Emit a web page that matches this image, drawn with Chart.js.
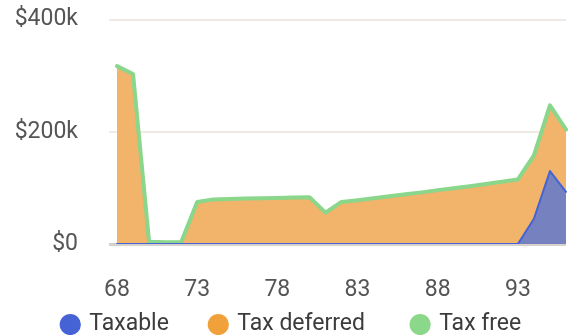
<!DOCTYPE html>
<html>
<head>
<meta charset="utf-8">
<script src="https://cdn.jsdelivr.net/npm/chart.js@4/dist/chart.umd.min.js"></script>
<style>
  html, body { margin: 0; padding: 0; background: #fff; overflow: hidden; }
  #wrap { width: 584px; height: 335px; }
</style>
</head>
<body>
<div id="wrap"><canvas id="graph-soldes" width="584" height="335"></canvas></div>
<script>
// ages du graphique (une étiquette sur cinq est affichée)
const ages = [68, 69, 70, 71, 72, 73, 74, 75, 76, 77, 78, 79, 80, 81, 82,
  83, 84, 85, 86, 87, 88, 89, 90, 91, 92, 93, 94, 95, 96];

// soldes en milliers de dollars
const taxable = [0, 0, 0, 0, 0, 0, 0, 0, 0, 0, 0, 0, 0, 0, 0,
  0, 0, 0, 0, 0, 0, 0, 0, 0, 0, 0, 45, 130, 93];
const taxDeferred = [317, 303, 4, 3, 3, 75, 79.5, 80, 81, 81.5, 82, 83, 83.5, 56, 75,
  78, 81.5, 85, 88.5, 92, 96, 99.5, 103, 107, 111, 115, 113, 117, 111];
const taxFree = [0, 0, 0, 0, 0, 0, 0, 0, 0, 0, 0, 0, 0, 0, 0,
  0, 0, 0, 0, 0, 0, 0, 0, 0, 0, 0, 0, 0, 0];

const yTicks = [0, 200000, 400000];

const police = { family: "Roboto", size: 23 };

function serie(label, valeurs, couleur, aire, epaisseur, ligne) {
  return {
    label: label,
    data: valeurs.map(v => v * 1000),
    backgroundColor: couleur,
    borderColor: ligne || couleur,
    borderWidth: epaisseur,
    fill: aire ? { target: "origin", above: aire } : false,
    pointRadius: 0,
    pointHoverRadius: 0,
    tension: 0,
    borderCapStyle: "round",
    borderJoinStyle: "round"
  };
}

// espaces ajoutés après le texte pour écarter les entrées de la légende
const ecarts = ["       ", "        ", ""];

const ctx = document.getElementById("graph-soldes").getContext("2d");
new Chart(ctx, {
  type: "line",
  data: {
    labels: ages.map(String),
    datasets: [
      serie("Taxable", taxable, "#4563d5", "#7681bf", 2),
      serie("Tax deferred", taxDeferred, "#f0a13a", "#f2b36a", 0),
      serie("Tax free", taxFree, "#8bd88b", null, 4, "#8ad68a")
    ]
  },
  options: {
    responsive: false,
    devicePixelRatio: 1,
    animation: false,
    layout: { padding: 0 },
    scales: {
      x: {
        grid: { display: false, drawTicks: false },
        border: { display: false },
        afterFit: s => {
          s.height = 67;
          s.paddingLeft = 0;
          s.paddingRight = 18;
        },
        ticks: {
          autoSkip: false,
          maxRotation: 0,
          padding: 32,
          color: "#555",
          font: police,
          callback: (v, i) => (i % 5 === 0 ? ages[i] : "")
        }
      },
      y: {
        stacked: true,
        min: 0,
        max: 400000,
        afterBuildTicks: s => { s.ticks = yTicks.map(v => ({ value: v })); },
        afterFit: s => {
          s.width = 117;
          s.paddingTop = 19.5;
          s.paddingBottom = 13;
        },
        border: { display: false },
        grid: {
          color: c => (c.tick && c.tick.value === 0 ? "#d6d1cb" : "#eeeae6"),
          lineWidth: c => (c.tick && c.tick.value === 0 ? 3 : 2),
          tickLength: 8
        },
        ticks: {
          padding: 31,
          color: "#555",
          font: police,
          callback: v => (v === 0 ? "$0" : "$" + v / 1000 + "k")
        }
      }
    },
    plugins: {
      filler: { drawTime: "beforeDatasetsDraw" },
      tooltip: { enabled: false },
      legend: {
        position: "bottom",
        maxHeight: 24,
        labels: {
          usePointStyle: true,
          boxWidth: 15,
          boxHeight: 15,
          padding: 2,
          color: "#3c3c3c",
          font: police,
          generateLabels: chart => {
            const items = Chart.defaults.plugins.legend.labels.generateLabels(chart);
            return items.map((it, i) => {
              it.lineWidth = 0;
              it.fillStyle = chart.data.datasets[i].backgroundColor;
              it.text = it.text + ecarts[i];
              return it;
            });
          }
        }
      }
    }
  }
});
</script>
</body>
</html>
